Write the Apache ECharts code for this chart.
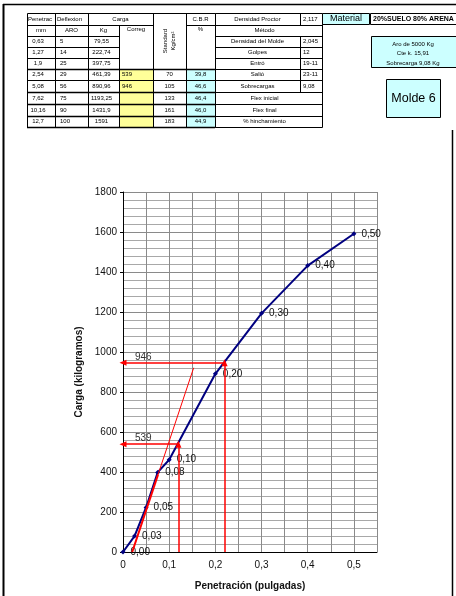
<!DOCTYPE html>
<html>
<head>
<meta charset="utf-8">
<script src="https://cdn.jsdelivr.net/npm/echarts@6/dist/echarts.min.js"></script>
<style>
html,body{margin:0;padding:0;background:#fff;}
#c{width:456px;height:596px;}
</style>
</head>
<body>
<div id="c"></div>
<script>
// Ensayo CBR - Molde 6: datos de la planilla y curva carga / penetración
const penetracionMm = ['0,63', '1,27', '1,9', '2,54', '5,08', '7,62', '10,16', '12,7'];
const deflexionAro = [5, 14, 25, 29, 56, 75, 90, 100];
const cargaKg = [79.55, 222.74, 397.75, 461.39, 890.96, 1193.25, 1431.9, 1591];
const cargaCorregida = ['', '', '', '539', '946', '', '', ''];
const standardKgcm2 = ['', '', '', '70', '105', '133', '161', '183'];
const cbrPct = ['', '', '', '39,8', '46,6', '46,4', '46,0', '44,9'];

const datosLabel = ['Densidad Proctor', 'Método', 'Densidad del Molde', 'Golpes', 'Entró', 'Salió',
  'Sobrecargas', 'Flex inicial', 'Flex final', '% hinchamiento'];
const datosValor = ['2,117', null, '2,045', '12', '19-11', '23-11', '9,08', null, null, null];
const materialTexto = '20%SUELO 80% ARENA';
const aroTexto = ['Aro de 5000 Kg', 'Cte k. 15,91', 'Sobrecarga 9,08 Kg'];
const moldeTexto = 'Molde 6';

// Curva (pulgadas vs kg)
const penetracionPulg = [0, 0.025, 0.05, 0.075, 0.1, 0.2, 0.3, 0.4, 0.5];
const cargaCurva = [0, 79.55, 222.74, 397.75, 461.39, 890.96, 1193.25, 1431.9, 1591];
const etiquetasPulg = ['0,00', '0,03', '0,05', '0,08', '0,10', '0,20', '0,30', '0,40', '0,50'];

// Corrección por concavidad inicial
const tangenteX = [0.02, 0.076, 0.153];
const tangenteY = [0, 388, 921];
const penCorregida = [0.12, 0.22];
const cargaCorr = [539, 946];

const yTickStep = 200;
const xTickStep = 0.05;

const FONT = '"Liberation Sans", Arial, sans-serif';
const toComma = v => String(v).replace('.', ',');

// ---- planilla dibujada con elementos graphic ----
const G = [];
function ln(x1, y1, x2, y2, w) {
  G.push({ type: 'line', silent: true, shape: { x1, y1, x2, y2 }, style: { stroke: '#000', lineWidth: w || 1 } });
}
function box(x, y, w, h, fill, stroke) {
  G.push({ type: 'rect', silent: true, shape: { x, y, width: w, height: h },
    style: { fill: fill || 'none', stroke: stroke || null, lineWidth: 1 } });
}
function tx(s, x, y, align, size, opt) {
  opt = opt || {};
  G.push({ type: 'text', silent: true, x, y, rotation: opt.rot || 0,
    style: { text: s, fill: opt.color || '#000', font: (opt.weight || 'normal') + ' ' + (size || 6) + 'px ' + FONT,
      align: align || 'center', verticalAlign: 'middle', textAlign: align || 'center', textVerticalAlign: 'middle' } });
}

const colX = [27, 55, 88, 119, 153, 186, 215];
const rowY = [13, 25, 36, 47, 58, 69, 80, 92, 104, 116, 127];
const dCol = [215, 300, 322];
const rc = i => (rowY[i] + rowY[i + 1]) / 2;

// rellenos
box(colX[3], rowY[5], colX[4] - colX[3], rowY[10] - rowY[5], '#ffff99');
box(colX[5], rowY[5], colX[6] - colX[5], rowY[10] - rowY[5], '#ccffff');

// bordes tabla izquierda
box(colX[0] + 0.5, rowY[0] + 0.5, colX[6] - colX[0], rowY[10] - rowY[0], 'none', '#000');
ln(colX[0], rowY[1] + 0.5, colX[4], rowY[1] + 0.5);
ln(colX[5], rowY[1] + 0.5, colX[6], rowY[1] + 0.5);
[2, 3, 4].forEach(r => ln(colX[0], rowY[r] + 0.5, colX[3], rowY[r] + 0.5));
[5, 6, 7, 8, 9].forEach(r => ln(colX[0], rowY[r] + 0.5, colX[6], rowY[r] + 0.5, r === 6 ? 1 : 1.5));
[1, 2, 4, 5].forEach(c => ln(colX[c] + 0.5, rowY[0], colX[c] + 0.5, rowY[10]));
ln(colX[3] + 0.5, rowY[1], colX[3] + 0.5, rowY[10]);
ln(colX[0], rowY[10] + 0.5, colX[6], rowY[10] + 0.5, 1.5);

// encabezados
tx('Penetrac', colX[0] + 1, rc(0), 'left');
tx('Deflexion', colX[1] + 2, rc(0), 'left');
tx('Carga', (colX[2] + colX[4]) / 2, rc(0));
tx('C.B.R', (colX[5] + colX[6]) / 2, rc(0));
tx('mm', (colX[0] + colX[1]) / 2, rc(1));
tx('ARO', (colX[1] + colX[2]) / 2, rc(1));
tx('Kg', (colX[2] + colX[3]) / 2, rc(1));
tx('Correg', (colX[3] + colX[4]) / 2, rowY[1] + 4);
tx('%', (colX[5] + colX[6]) / 2, rowY[1] + 4);
tx('Standard', (colX[4] + colX[5]) / 2 - 4, (rowY[0] + rowY[5]) / 2, 'center', 6, { rot: Math.PI / 2 });
tx('Kg/cm²', (colX[4] + colX[5]) / 2 + 4, (rowY[0] + rowY[5]) / 2, 'center', 6, { rot: Math.PI / 2 });

// filas de datos
penetracionMm.forEach((p, i) => {
  const r = i + 2;
  tx(p, (colX[0] + colX[1]) / 2 - 3, rc(r));
  tx(String(deflexionAro[i]), colX[1] + 5, rc(r), 'left');
  tx(toComma(cargaKg[i]), (colX[2] + colX[3]) / 2 - 2, rc(r));
  if (cargaCorregida[i]) tx(cargaCorregida[i], colX[3] + 3, rc(r), 'left');
  if (standardKgcm2[i]) tx(standardKgcm2[i], (colX[4] + colX[5]) / 2, rc(r));
  if (cbrPct[i]) tx(cbrPct[i], (colX[5] + colX[6]) / 2, rc(r));
});

// tabla de datos generales
box(dCol[0] + 0.5, rowY[0] + 0.5, dCol[2] - dCol[0], rowY[10] - rowY[0], 'none', '#000');
for (let r = 1; r < 10; r++) ln(dCol[0], rowY[r] + 0.5, dCol[2], rowY[r] + 0.5);
datosLabel.forEach((s, r) => {
  if (datosValor[r] !== null) {
    ln(dCol[1] + 0.5, rowY[r], dCol[1] + 0.5, rowY[r + 1]);
    tx(s, (dCol[0] + dCol[1]) / 2, rc(r));
    tx(datosValor[r], dCol[1] + 3, rc(r), 'left');
  } else {
    tx(s, (dCol[0] + dCol[2]) / 2 - 4, rc(r));
  }
});

// material
box(322.5, 13.5, 47, 11, '#ccffff', '#000');
tx('Material', 346, 19, 'center', 9);
box(370.5, 13.5, 95, 11, 'none', '#000');
tx(materialTexto, 373, 19.5, 'left', 7, { weight: 'bold' });

// aro
box(371.5, 36.5, 90, 31, '#ccffff', '#000');
aroTexto.forEach((s, i) => tx(s, 413, 44 + i * 9.5, 'center', 6));

// molde
box(386.5, 79.5, 54, 38, '#ccffff', '#000');
tx(moldeTexto, 413.5, 98.5, 'center', 12.5);

// marco de página
ln(3, 4.5, 456, 4.5, 1.5);
ln(3.5, 4, 3.5, 596, 2);
ln(452.5, 130, 452.5, 596, 1.5);

// ---- gráfico ----
const curva = penetracionPulg.map((p, i) => [p, cargaCurva[i]]);
const tangFuerte = [[tangenteX[0], tangenteY[0]], [tangenteX[1], tangenteY[1]]];
const tangFina = [[tangenteX[1], tangenteY[1]], [tangenteX[2], tangenteY[2]]];

const flechas = [];
penCorregida.forEach((p, i) => {
  flechas.push([{ coord: [p, 0], symbol: 'none' }, { coord: [p, cargaCorr[i]], symbol: 'triangle' }]);
  flechas.push([
    { coord: [0, cargaCorr[i]], symbol: 'triangle' },
    { coord: [p, cargaCorr[i]], symbol: 'none',
      label: { show: true, position: 'insideStartTop', formatter: String(cargaCorr[i]),
        distance: [12, 1], color: '#333', fontSize: 10, fontFamily: FONT } }
  ]);
});

const chart = echarts.init(document.getElementById('c'), null, { renderer: 'canvas' });
chart.setOption({
  animation: false,
  backgroundColor: '#fff',
  grid: { left: 123, top: 192, width: 254, height: 361, containLabel: false },
  xAxis: {
    type: 'value', min: 0, max: 0.55, interval: xTickStep,
    name: 'Penetración (pulgadas)', nameLocation: 'middle', nameGap: 29,
    nameTextStyle: { fontFamily: FONT, fontSize: 10, fontWeight: 'bold', color: '#111' },
    axisLine: { show: true, lineStyle: { color: '#000', width: 1 } },
    axisTick: { show: false },
    axisLabel: {
      fontFamily: FONT, fontSize: 10, color: '#111', margin: 8,
      formatter: v => (Math.round(v * 100) % 10 === 0 ? (v === 0 ? '0' : v.toFixed(1).replace('.', ',')) : '')
    },
    splitLine: { show: true, lineStyle: { color: '#8a8a8a', width: 1 } }
  },
  yAxis: {
    type: 'value', min: 0, max: 1800, interval: yTickStep,
    name: 'Carga (kilogramos)', nameLocation: 'middle', nameGap: 33, nameRotate: 90,
    nameTextStyle: { fontFamily: FONT, fontSize: 10, fontWeight: 'bold', color: '#111' },
    axisLine: { show: true, lineStyle: { color: '#000', width: 1 } },
    axisTick: { show: true, length: 3, lineStyle: { color: '#000' } },
    axisLabel: { fontFamily: FONT, fontSize: 10, color: '#111', margin: 6, formatter: v => String(v) },
    splitLine: { show: true, lineStyle: { color: '#8a8a8a', width: 1 } },
    minorTick: { show: false, splitNumber: 5 },
    minorSplitLine: { show: true, lineStyle: { color: '#a8a8a8', width: 1 } }
  },
  series: [
    {
      type: 'line', data: curva, z: 3,
      symbol: 'diamond', symbolSize: 5,
      lineStyle: { color: '#000080', width: 2 },
      itemStyle: { color: '#000080' },
      label: {
        show: true, position: 'right', distance: 5,
        fontFamily: FONT, fontSize: 10, color: '#111',
        formatter: p => etiquetasPulg[p.dataIndex]
      }
    },
    {
      type: 'line', data: tangFuerte, z: 4, symbol: 'none',
      lineStyle: { color: '#ff0000', width: 2 }
    },
    {
      type: 'line', data: tangFina, z: 4, symbol: 'none',
      lineStyle: { color: '#ff0000', width: 1 }
    },
    {
      type: 'line', data: [], z: 5,
      markLine: {
        silent: true, symbolSize: [6, 7], animation: false,
        lineStyle: { color: '#ff0000', width: 1.5, type: 'solid' },
        label: { show: false },
        data: flechas
      }
    }
  ],
  graphic: { elements: G }
});
</script>
</body>
</html>
